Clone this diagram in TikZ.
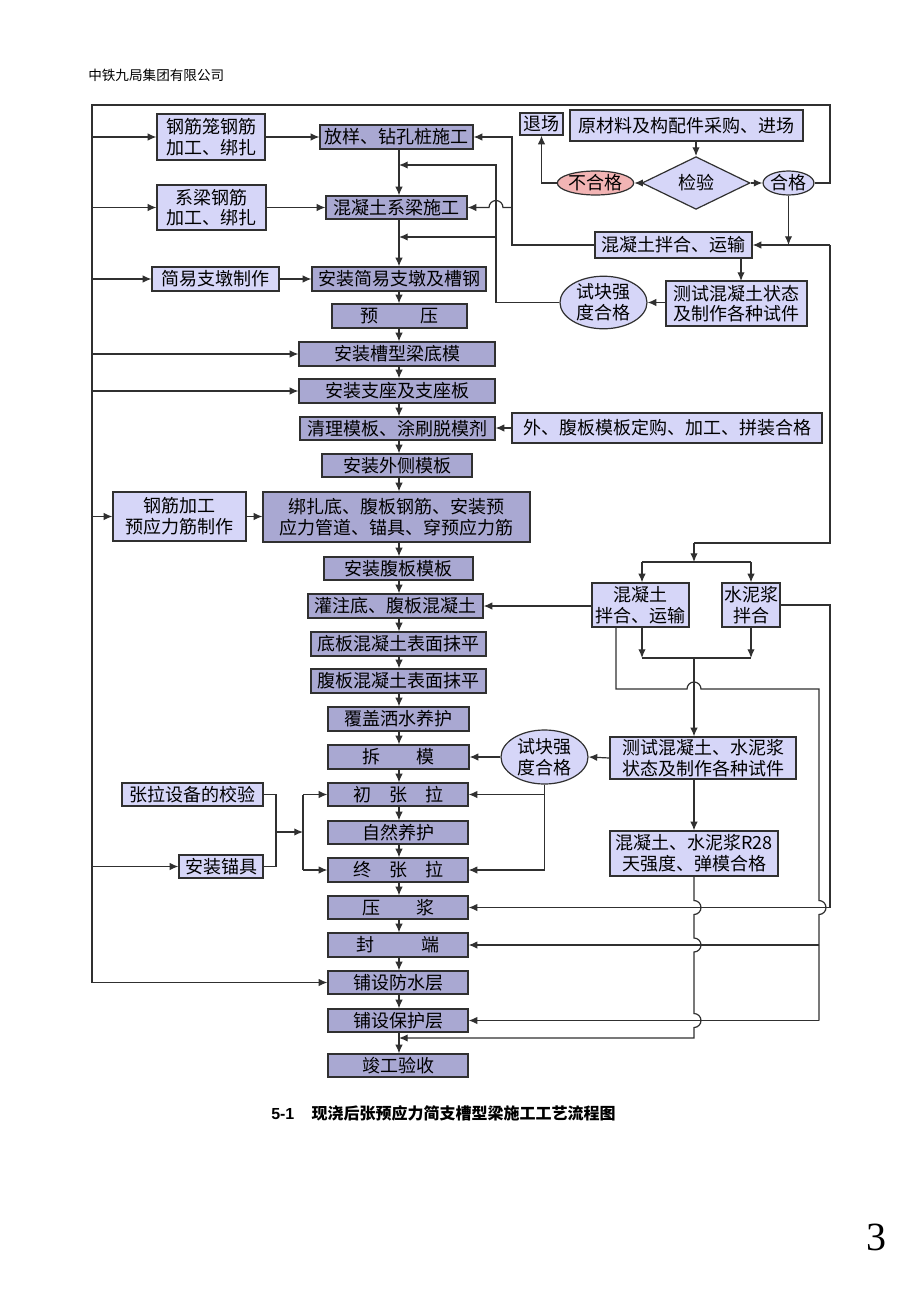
\documentclass[tikz,border=0pt]{standalone}
\usepackage{fontspec}
\setmainfont{Liberation Serif}
\newfontfamily\cjk{Noto Sans CJK SC}
\newfontfamily\arialf{Liberation Sans}
\usetikzlibrary{arrows.meta,shapes.geometric}
\definecolor{mainc}{HTML}{A9A8D2}
\definecolor{sidec}{HTML}{D6D6F8}
\definecolor{pinkc}{HTML}{F2B4B4}
\definecolor{lc}{HTML}{303030}
\tikzset{
 base/.style={draw=lc, line width=0.9pt, inner sep=0pt, align=center, text=black,
   font=\cjk\fontsize{13.5}{15.5}\selectfont},
 mb/.style={base, fill=mainc},
 sb/.style={base, fill=sidec},
 el/.style={base, ellipse, fill=sidec},
 sz/.style 2 args={minimum width=#1*0.75pt, minimum height=#2*0.75pt},
 ln/.style={draw=lc, line width=0.9pt},
 arr/.style={draw=lc, line width=0.9pt, -{Latex[length=6.5pt,width=5.5pt]}},
}
\begin{document}
\begin{tikzpicture}[x=0.75pt,y=-0.75pt]
\fill[white] (0,0) rectangle (920,1302);
\useasboundingbox (0,0) rectangle (920,1302);

% header, caption, page number
\node[anchor=west, inner sep=0pt, font=\cjk\fontsize{10.2}{12}\selectfont] (hdr) at (88,75) {中铁九局集团有限公司};
\node[anchor=west, inner sep=0pt, font=\fontsize{12}{14}\selectfont\bfseries] (cap) at (271,1113)
  {{\arialf 5-1}\hspace{13pt}{\cjk 现浇后张预应力简支槽型梁施工工艺流程图}};
\node[inner sep=0pt, font=\fontsize{30}{32}\selectfont] (pg) at (876,1237) {3};

% coordinates for vertical lines
\coordinate (L) at (92,0);
\coordinate (S) at (399,0);
\coordinate (R) at (830,0);
\coordinate (R2) at (819,0);
\coordinate (V1) at (512,0);
\coordinate (V2) at (496,0);
\coordinate (V3) at (303,0);
\coordinate (V4) at (276,0);
\coordinate (M) at (694,0);
\coordinate (K) at (616,0);
\coordinate (T) at (0,105);
\coordinate (X642) at (642,0);

% main column
\node[mb, sz={153}{24}] (fy) at (396.5,137) {放样、钻孔桩施工};
\node[mb, sz={141}{23}] (xl) at (396.5,207.5) {混凝土系梁施工};
\node[mb, sz={174}{24}] (azjy) at (399,279) {安装简易支墩及槽钢};
\node[mb, sz={135}{24}] (yy) at (399.5,316) {预\hspace{2.3em}压};
\node[mb, sz={196}{24}] (dm) at (397,354) {安装槽型梁底模};
\node[mb, sz={196}{24}] (zz) at (397,391) {安装支座及支座板};
\node[mb, sz={195}{23}] (ql) at (397.5,428.5) {清理模板、涂刷脱模剂};
\node[mb, sz={150}{23}] (wc) at (397,465.5) {安装外侧模板};
\node[mb, sz={267}{50}] (bz) at (396.5,517) {绑扎底、腹板钢筋、安装预\\应力管道、锚具、穿预应力筋};
\node[mb, sz={149}{23}] (fb) at (398.5,568.5) {安装腹板模板};
\node[mb, sz={175}{24}] (gz) at (395.5,606) {灌注底、腹板混凝土};
\node[mb, sz={175}{24}] (db) at (398.5,644) {底板混凝土表面抹平};
\node[mb, sz={175}{24}] (fbm) at (398.5,681) {腹板混凝土表面抹平};
\node[mb, sz={141}{24}] (fg) at (398.5,719) {覆盖洒水养护};
\node[mb, sz={141}{24}] (cm) at (398.5,757) {拆\hspace{2em}模};
\node[mb, sz={140}{23}] (czl) at (398,794.5) {初\hspace{1em}张\hspace{1em}拉};
\node[mb, sz={140}{23}] (zr) at (398,832.5) {自然养护};
\node[mb, sz={140}{24}] (zzl) at (398,870) {终\hspace{1em}张\hspace{1em}拉};
\node[mb, sz={140}{23}] (yj) at (398,907.5) {压\hspace{2em}浆};
\node[mb, sz={140}{24}] (fd) at (398,945) {封\hspace{2.6em}端};
\node[mb, sz={140}{23}] (fs) at (398,982.5) {铺设防水层};
\node[mb, sz={140}{23}] (bh) at (398,1020.5) {铺设保护层};
\node[mb, sz={140}{23}] (jg) at (398,1065.5) {竣工验收};

% left side boxes
\node[sb, sz={108}{46}] (gjl) at (211,137) {钢筋笼钢筋\\加工、绑扎};
\node[sb, sz={109}{45}] (xlgj) at (211.5,207.5) {系梁钢筋\\加工、绑扎};
\node[sb, sz={127}{24}] (jyz) at (215.5,279) {简易支墩制作};
\node[sb, sz={133}{49}] (gjjg) at (179.5,516.5) {钢筋加工\\预应力筋制作};
\node[sb, sz={141}{23}] (zlsb) at (192.5,794.5) {张拉设备的校验};
\node[sb, sz={84}{23}] (mj) at (221,866.5) {安装锚具};

% right side
\node[sb, sz={43}{22}] (tc) at (541.5,124) {退场};
\node[sb, sz={233}{31}] (ycl) at (686.5,125.5) {原材料及构配件采购、进场};
\node[base, diamond, fill=sidec, sz={108}{48}] (jy) at (696,183) {检验};
\node[base, ellipse, fill=pinkc, sz={63}{24}] (bhg) at (595.5,183) {不合格};
\node[el, sz={43}{24}] (hg) at (788.5,183) {合格};
\node[sb, sz={157}{26}] (hnt1) at (673.5,245) {混凝土拌合、运输};
\node[sb, sz={141}{45}] (cs1) at (736.5,303.5) {测试混凝土状态\\及制作各种试件};
\node[el, sz={87}{49}] (sk1) at (603.5,302.5) {试块强\\度合格};
\node[sb, sz={310}{30}] (wfb) at (667,428) {外、腹板模板定购、加工、拼装合格};
\node[sb, sz={97}{44}] (hnt2) at (640.5,605) {混凝土\\拌合、运输};
\node[sb, sz={58}{44}] (snj) at (751,605) {水泥浆\\拌合};
\node[sb, sz={186}{42}] (cs2) at (703,758) {测试混凝土、水泥浆\\状态及制作各种试件};
\node[el, sz={87}{54}] (sk2) at (544.5,757) {试块强\\度合格};
\node[sb, sz={168}{45}] (r28) at (694,853.5) {混凝土、水泥浆R28\\天强度、弹模合格};

% main spine arrows
\foreach \a/\b in {fy/xl, xl/azjy, azjy/yy, yy/dm, dm/zz, zz/ql, ql/wc, wc/bz, bz/fb, fb/gz,
  gz/db, db/fbm, fbm/fg, fg/cm, cm/czl, czl/zr, zr/zzl, zzl/yj, yj/fd, fd/fs, fs/bh, bh/jg}
  \draw[arr] (S |- \a.south) -- (S |- \b.north);

% big loop from 合格 round the top and down the left side
\draw[arr] (hg.east) -- (R |- hg.east) -- (R |- T) -- (L |- T) -- (L |- fs.west) -- (fs.west);
\foreach \n in {gjl, xlgj, jyz, dm, zz, gjjg, mj}
  \draw[arr] (L |- \n.west) -- (\n.west);

% side boxes into main column
\draw[arr] (gjl.east) -- (fy.west |- gjl.east);
\draw[arr] (xlgj.east) -- (xl.west |- xlgj.east);
\draw[arr] (jyz.east) -- (azjy.west);
\draw[arr] (gjjg.east) -- (bz.west |- gjjg.east);
\draw[arr] (wfb.west) -- (ql.east |- wfb.west);

% tensioning inputs
\draw[ln] (zlsb.east) -- (V4 |- zlsb.east) -- (V4 |- mj.east) -- (mj.east);
\draw[arr] (276,832) -- (303,832);
\draw[ln] (V3 |- czl.west) -- (V3 |- zzl.west);
\draw[arr] (V3 |- czl.west) -- (czl.west);
\draw[arr] (V3 |- zzl.west) -- (zzl.west);

% inspection of raw material
\draw[arr] (jy.north |- ycl.south) -- (jy.north);
\draw[arr] (jy.west) -- (bhg.east);
\draw[arr] (jy.east) -- (hg.west);
\draw[arr] (bhg.west) -| (tc.south);
\draw[arr] (hg.south) -- (hg.south |- hnt1.east);

% concrete mixing (upper)
\draw[arr] (R |- hnt1.east) -- (hnt1.east);
\draw[ln] (R |- hnt1.east) -- (830,543) -- (694,543);
\draw[arr] (694,543) -- (694,562);
\draw[ln] (642,562) -- (751,562);
\draw[arr] (642,562) -- (X642 |- hnt2.north);
\draw[arr] (751,562) -- (snj.north);
\draw[arr] (hnt1.west) -- (V1 |- hnt1.west) -- (V1 |- fy.east) -- (fy.east);
\draw[arr] (V1 |- xl.east) -- (503,207.5) arc[start angle=0, end angle=-180, radius=7] -- (xl.east);
\draw[arr] (741,258) -- (741,281);
\draw[arr] (cs1.west |- sk1.east) -- (sk1.east);
\draw[arr] (sk1.west) -- (V2 |- sk1.west) -- (496,165) -- (399,165);
\draw[arr] (496,237) -- (399,237);

% concrete / grout mixing (lower)
\draw[arr] (hnt2.west) -- (gz.east -| hnt2.west) -- (gz.east);
\draw[arr] (642,627) -- (642,658);
\draw[arr] (751,627) -- (751,658);
\draw[ln] (642,658) -- (751,658);
\draw[arr] (694,658) -- (cs2.north -| M);
\draw[arr] (cs2.west) -- (sk2.east);
\draw[arr] (sk2.west) -- (cm.east);
\draw[arr] (sk2.south) -- (sk2.south |- zzl.east) -- (zzl.east);
\draw[arr] (sk2.south |- czl.east) -- (czl.east);
\draw[arr] (M |- cs2.south) -- (r28.north);

% concrete line to 封端 and 铺设保护层
\draw[ln] (K |- hnt2.south) -- (616,689) -- (687,689) arc[start angle=180, end angle=360, radius=7]
  -- (819,689) -- (819,900.5) arc[start angle=-90, end angle=90, radius=7] -- (819,1020.5);
\draw[arr] (819,945) -- (fd.east);
\draw[arr] (819,1020.5) -- (bh.east);

% grout line to 压浆
\draw[arr] (snj.east) -- (R |- snj.east) -- (R |- yj.east) -- (yj.east);

% R28 line to 竣工验收
\draw[arr] (r28.south) -- (694,900.5) arc[start angle=-90, end angle=90, radius=7]
  -- (694,938) arc[start angle=-90, end angle=90, radius=7]
  -- (694,1013.5) arc[start angle=-90, end angle=90, radius=7]
  -- (694,1038) -- (399,1038);
\end{tikzpicture}
\end{document}
